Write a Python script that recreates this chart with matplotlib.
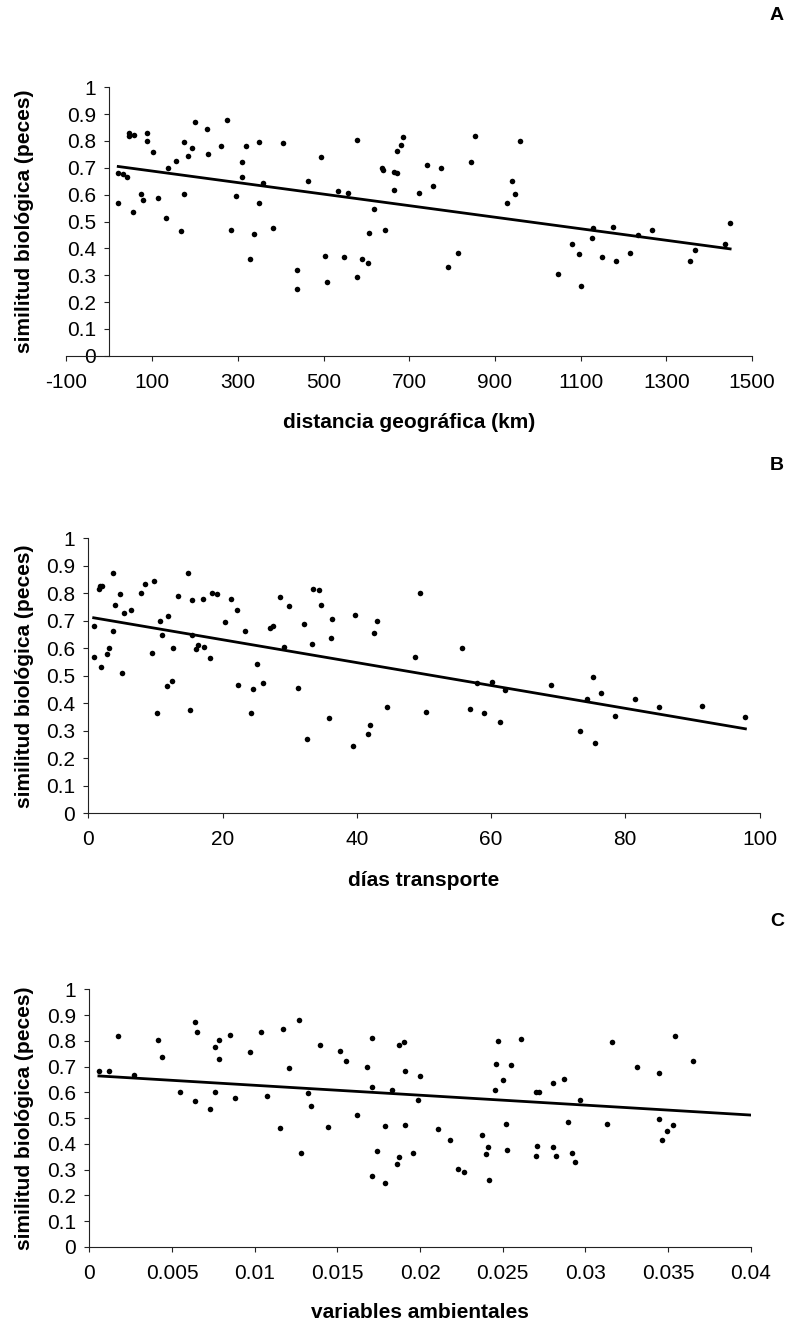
import numpy as np
import matplotlib.pyplot as plt
from matplotlib.ticker import FuncFormatter, FixedLocator, MultipleLocator

plt.rcParams['font.family'] = ['Liberation Sans', 'DejaVu Sans']

# Panel A: distancia geográfica (km) vs similitud biológica
dist_km = [21, 21, 32, 41, 45, 45, 57, 55, 75, 79, 88, 88, 102, 113, 133, 136, 156, 167,
           174, 174, 184, 194, 201, 227, 230, 261, 275, 284, 295, 309, 309, 318, 329, 338,
           349, 349, 358, 383, 406, 438, 438, 464, 495, 504, 509, 535, 549, 558, 579, 579,
           590, 605, 606, 619, 637, 640, 644, 664, 664, 671, 671, 681, 685, 723, 741, 755,
           775, 790, 815, 845, 854, 928, 939, 948, 959, 1047, 1080, 1097, 1102, 1126, 1128,
           1150, 1175, 1182, 1216, 1233, 1267, 1356, 1367, 1438, 1449]
sim_a = [0.568, 0.682, 0.677, 0.667, 0.829, 0.819, 0.824, 0.536, 0.602, 0.579, 0.830, 0.801,
         0.758, 0.586, 0.514, 0.698, 0.726, 0.466, 0.602, 0.797, 0.743, 0.775, 0.872, 0.846,
         0.753, 0.780, 0.878, 0.470, 0.596, 0.721, 0.666, 0.780, 0.362, 0.454, 0.797, 0.568,
         0.645, 0.476, 0.792, 0.319, 0.248, 0.650, 0.742, 0.373, 0.275, 0.612, 0.368, 0.607,
         0.292, 0.803, 0.362, 0.346, 0.459, 0.547, 0.701, 0.691, 0.470, 0.618, 0.685, 0.679,
         0.764, 0.785, 0.813, 0.607, 0.710, 0.634, 0.698, 0.330, 0.383, 0.721, 0.818, 0.568,
         0.650, 0.602, 0.801, 0.303, 0.417, 0.378, 0.259, 0.438, 0.475, 0.367, 0.481, 0.351,
         0.383, 0.449, 0.470, 0.351, 0.394, 0.416, 0.493]
trend_a = (-0.000215, 0.7095)   # slope, intercept

# Panel B: días transporte
dias = [0.8, 0.8, 1.6, 1.8, 2.0, 1.9, 2.8, 3.1, 3.7, 3.7, 4.0, 4.7, 5.0, 5.3, 6.3, 7.8, 8.4,
        9.5, 9.8, 10.2, 10.7, 11.0, 11.7, 11.9, 12.4, 12.6, 13.4, 14.9, 15.2, 15.4, 15.4,
        16.1, 16.3, 17.1, 17.3, 18.2, 18.4, 19.2, 20.3, 21.2, 22.1, 22.3, 23.4, 24.2, 24.5,
        25.1, 26.1, 27.0, 27.5, 28.6, 29.2, 29.9, 31.2, 32.2, 32.6, 33.3, 33.5, 34.4, 34.6,
        35.9, 36.1, 36.3, 39.4, 39.8, 41.7, 41.9, 42.5, 43.0, 44.5, 48.6, 49.4, 50.3, 55.7,
        56.9, 57.9, 58.9, 60.1, 61.3, 62.1, 68.9, 73.2, 74.3, 75.2, 75.5, 76.4, 78.5, 81.5,
        85.1, 91.4, 97.9]
sim_b = [0.680, 0.568, 0.817, 0.825, 0.828, 0.532, 0.580, 0.601, 0.875, 0.664, 0.759, 0.796,
         0.510, 0.728, 0.738, 0.802, 0.833, 0.584, 0.843, 0.363, 0.701, 0.649, 0.463, 0.717,
         0.481, 0.601, 0.791, 0.875, 0.374, 0.774, 0.649, 0.596, 0.613, 0.780, 0.606, 0.565,
         0.802, 0.796, 0.697, 0.780, 0.738, 0.468, 0.664, 0.363, 0.452, 0.543, 0.473, 0.675,
         0.680, 0.785, 0.606, 0.753, 0.457, 0.690, 0.272, 0.617, 0.817, 0.811, 0.759, 0.347,
         0.638, 0.706, 0.245, 0.722, 0.288, 0.320, 0.654, 0.701, 0.385, 0.570, 0.802, 0.368,
         0.601, 0.378, 0.474, 0.363, 0.479, 0.331, 0.447, 0.468, 0.299, 0.416, 0.495, 0.256,
         0.437, 0.353, 0.416, 0.385, 0.389, 0.352]
trend_b = (-0.004158, 0.7143)

# Panel C: variables ambientales
amb = [0.00058, 0.00119, 0.00171, 0.00268, 0.00415, 0.00442, 0.00549, 0.00638, 0.00653,
       0.00638, 0.00732, 0.00760, 0.00760, 0.00784, 0.00784, 0.00848, 0.00882, 0.00970,
       0.01037, 0.01074, 0.01156, 0.01172, 0.01205, 0.01269, 0.01278, 0.01321, 0.01339,
       0.01397, 0.01446, 0.01513, 0.01550, 0.01620, 0.01681, 0.01709, 0.01709, 0.01709,
       0.01742, 0.01788, 0.01788, 0.01831, 0.01858, 0.01873, 0.01873, 0.01901, 0.01910,
       0.01910, 0.01956, 0.01989, 0.01998, 0.02111, 0.02182, 0.02227, 0.02264, 0.02377,
       0.02401, 0.02410, 0.02419, 0.02453, 0.02462, 0.02471, 0.02499, 0.02517, 0.02523,
       0.02551, 0.02612, 0.02700, 0.02719, 0.02700, 0.02709, 0.02804, 0.02804, 0.02822,
       0.02868, 0.02896, 0.02920, 0.02938, 0.02966, 0.03133, 0.03158, 0.03310, 0.03445,
       0.03445, 0.03463, 0.03491, 0.03527, 0.03542, 0.03652]
sim_c = [0.682, 0.682, 0.819, 0.666, 0.802, 0.739, 0.603, 0.875, 0.834, 0.568, 0.536, 0.777,
         0.603, 0.802, 0.728, 0.824, 0.580, 0.755, 0.834, 0.586, 0.462, 0.846, 0.693, 0.880,
         0.365, 0.596, 0.546, 0.784, 0.467, 0.761, 0.721, 0.512, 0.700, 0.811, 0.620, 0.276,
         0.371, 0.468, 0.247, 0.609, 0.321, 0.349, 0.784, 0.794, 0.682, 0.473, 0.366, 0.571,
         0.665, 0.457, 0.415, 0.304, 0.292, 0.433, 0.361, 0.388, 0.259, 0.609, 0.710, 0.801,
         0.648, 0.479, 0.376, 0.705, 0.806, 0.603, 0.603, 0.354, 0.393, 0.636, 0.388, 0.354,
         0.653, 0.484, 0.366, 0.331, 0.569, 0.479, 0.796, 0.700, 0.675, 0.495, 0.415, 0.450,
         0.473, 0.818, 0.722]
trend_c = (-3.85, 0.666)
trend_c_end = 0.04

W, H = 791, 1325
fig = plt.figure(figsize=(W / 100, H / 100), dpi=100)


def box(l, t, r, b):
    return [l / W, 1 - b / H, (r - l) / W, (b - t) / H]


def panel(rect, x, y, trend, x_end, xlim, xstep, xlabel, letter, ylab_y, xlab_y, letter_y):
    ax = fig.add_axes(rect)
    ax.plot(x, y, 'o', color='black', ms=4, mec='none')
    slope, icpt = trend
    xs = np.array([min(x), x_end if x_end is not None else max(x)])
    ax.plot(xs, slope * xs + icpt, color='black', lw=2)

    ax.set_xlim(xlim)
    ax.set_ylim(0, 1)
    # ticks start at the left end of the axis, as in Excel
    ax.xaxis.set_major_locator(FixedLocator(np.arange(xlim[0], xlim[1] + xstep / 2, xstep)))
    ax.yaxis.set_major_locator(MultipleLocator(0.1))
    fmt = FuncFormatter(lambda v, p: f'{round(v, 6):g}')
    ax.xaxis.set_major_formatter(fmt)
    ax.yaxis.set_major_formatter(fmt)

    for s in ['top', 'right']:
        ax.spines[s].set_visible(False)
    ax.spines['left'].set_position(('data', 0))
    for s in ['left', 'bottom']:
        ax.spines[s].set_linewidth(0.8)
        ax.spines[s].set_color('#222222')
    ax.tick_params(axis='both', direction='out', length=3.6, width=0.8,
                   color='#222222', labelsize=15)
    ax.tick_params(axis='y', pad=6)
    ax.tick_params(axis='x', pad=8.5)

    fig.text(25 / W, 1 - ylab_y / H, 'similitud biológica (peces)', rotation=90,
             ha='center', va='center', fontsize=15, fontweight='bold')
    cx = rect[0] + rect[2] / 2
    fig.text(cx, 1 - xlab_y / H, xlabel, ha='center', va='center',
             fontsize=15, fontweight='bold')
    fig.text(777 / W, 1 - letter_y / H, letter, ha='center', va='center',
             fontsize=14, fontweight='bold')
    return ax


panel(box(66.4, 87.3, 752, 355.7), dist_km, sim_a, trend_a, None, (-100, 1500), 200,
      'distancia geográfica (km)', 'A', 221, 423, 16)
panel(box(88.3, 538.3, 759.5, 813.3), dias, sim_b, trend_b, None, (0, 100), 20,
      'días transporte', 'B', 676, 880, 466)
panel(box(89.3, 989.3, 750.8, 1247), amb, sim_c, trend_c, trend_c_end, (0, 0.04), 0.005,
      'variables ambientales', 'C', 1118, 1313, 922)

fig.savefig('out.png', dpi=100)
